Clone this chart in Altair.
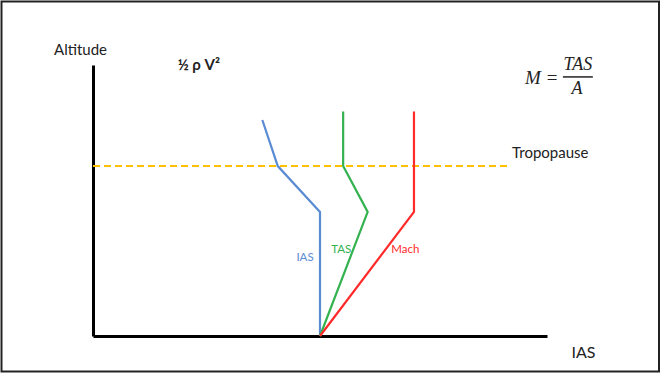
import altair as alt
import pandas as pd

# Curves (x: speed units 0-100, y: altitude units 0-100)
ias_x = [50.0, 50.0, 40.7, 37.3]
ias_y = [0.0, 45.8, 62.7, 79.7]
tas_x = [50.0, 60.5, 55.1, 55.1]
tas_y = [0.0, 45.8, 62.7, 82.8]
mach_x = [50.0, 70.7, 70.7]
mach_y = [0.0, 45.8, 82.8]

tropo_x = [0.0, 91.9]
tropo_y = [62.7, 62.7]

# Curve labels
lab_text = ["IAS", "TAS", "Mach"]
lab_x = [46.7, 54.7, 68.8]
lab_y = [28.6, 31.7, 31.7]
lab_color = ["#5b8bd3", "#33b24f", "#ff2b2b"]

# Annotations
ann_text = ["½ ρ V²", "Tropopause"]
ann_x = [23.3, 92.3]
ann_y = [100.0, 67.4]

# Formula M = TAS / A
f_text = ["M =", "TAS", "A"]
f_x = [102.5, 106.8, 106.6]
f_y = [95.2, 100.0, 91.1]
bar_x = [103.5]
bar_x2 = [110.1]
bar_y = [95.6]

W, H = 454, 271
xs = alt.Scale(domain=[0, 100], nice=False, zero=False)
ys = alt.Scale(domain=[0, 100], nice=False, zero=False)

df_lines = pd.DataFrame({
    "x": ias_x + tas_x + mach_x,
    "y": ias_y + tas_y + mach_y,
    "series": ["IAS"] * len(ias_x) + ["TAS"] * len(tas_x) + ["Mach"] * len(mach_x),
    "order": list(range(len(ias_x))) + list(range(len(tas_x))) + list(range(len(mach_x))),
})

xaxis = alt.Axis(title="IAS", ticks=False, labels=False, grid=False, domainColor="black",
                 domainWidth=3, titleFont="Lato", titleFontSize=16, titleFontWeight="normal",
                 titleColor="#222", titleX=490, titleY=16, titleAlign="center",
                 titleBaseline="middle")
yaxis = alt.Axis(title="Altitude", ticks=False, labels=False, grid=False, domainColor="black",
                 domainWidth=3, titleFont="Lato", titleFontSize=15, titleFontWeight="normal",
                 titleColor="#222", titleAngle=0, titleX=-13, titleY=-16, titleAlign="center",
                 titleBaseline="middle")

frame = alt.Chart(pd.DataFrame({"a": [0]})).mark_rect(
    filled=False, stroke="#222", strokeWidth=2
).encode(
    x=alt.value(-91.5), x2=alt.value(566), y=alt.value(-63.5), y2=alt.value(306.5)
)

base_axes = alt.Chart(pd.DataFrame({"x": tropo_x, "y": tropo_y})).mark_line(
    color="#ffc000", strokeWidth=2, strokeDash=[7, 4]
).encode(
    x=alt.X("x:Q", scale=xs, axis=xaxis),
    y=alt.Y("y:Q", scale=ys, axis=yaxis),
)

lines = alt.Chart(df_lines).mark_line(strokeWidth=2.2).encode(
    x=alt.X("x:Q", scale=xs),
    y=alt.Y("y:Q", scale=ys),
    order="order:Q",
    color=alt.Color("series:N",
                    scale=alt.Scale(domain=lab_text, range=lab_color),
                    legend=None),
)

labels = alt.Chart(pd.DataFrame({"x": lab_x, "y": lab_y, "t": lab_text, "c": lab_color})).mark_text(
    font="Lato", fontSize=11.5, align="center", baseline="middle"
).encode(
    x=alt.X("x:Q", scale=xs), y=alt.Y("y:Q", scale=ys), text="t:N",
    color=alt.Color("c:N", scale=None),
)

ann1 = alt.Chart(pd.DataFrame({"x": ann_x[:1], "y": ann_y[:1], "t": ann_text[:1]})).mark_text(
    font="Lato", fontSize=15, fontWeight="bold", align="center", baseline="middle", color="#222"
).encode(x=alt.X("x:Q", scale=xs), y=alt.Y("y:Q", scale=ys), text="t:N")

ann2 = alt.Chart(pd.DataFrame({"x": ann_x[1:], "y": ann_y[1:], "t": ann_text[1:]})).mark_text(
    font="Lato", fontSize=15, align="left", baseline="middle", color="#222"
).encode(x=alt.X("x:Q", scale=xs), y=alt.Y("y:Q", scale=ys), text="t:N")

f_lhs = alt.Chart(pd.DataFrame({"x": f_x[:1], "y": f_y[:1], "t": f_text[:1]})).mark_text(
    font="Liberation Serif", fontStyle="italic", fontSize=19, align="right", baseline="middle",
    color="#222"
).encode(x=alt.X("x:Q", scale=xs), y=alt.Y("y:Q", scale=ys), text="t:N")

f_rhs = alt.Chart(pd.DataFrame({"x": f_x[1:], "y": f_y[1:], "t": f_text[1:]})).mark_text(
    font="Liberation Serif", fontStyle="italic", fontSize=18, align="center", baseline="middle",
    color="#222"
).encode(x=alt.X("x:Q", scale=xs), y=alt.Y("y:Q", scale=ys), text="t:N")

f_bar = alt.Chart(pd.DataFrame({"x": bar_x, "x2": bar_x2, "y": bar_y})).mark_rule(
    color="#222", strokeWidth=1.5
).encode(x=alt.X("x:Q", scale=xs), x2="x2:Q", y=alt.Y("y:Q", scale=ys))

chart = alt.layer(
    frame, base_axes, lines, labels, ann1, ann2, f_lhs, f_rhs, f_bar
).properties(
    width=W, height=H,
    autosize=alt.AutoSizeParams(type="none"),
    padding={"left": 93, "top": 65, "right": 114, "bottom": 37},
    background="white",
).configure_view(stroke=None)

chart.save("out.html", embed_options={"renderer": "svg", "actions": False})
